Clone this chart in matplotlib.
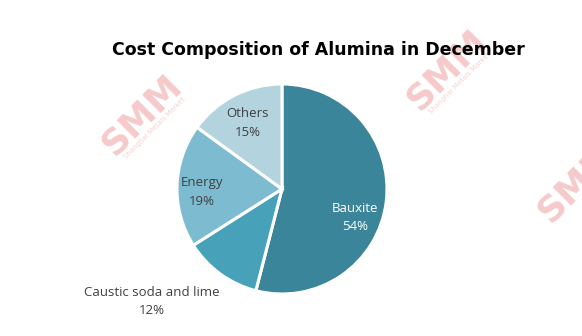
import matplotlib
matplotlib.use("Agg")
import matplotlib.pyplot as plt

categories = ["Bauxite", "Caustic soda and lime", "Energy", "Others"]
shares = [54, 12, 19, 15]
colors = ["#3A8599", "#47A1B8", "#7DBBD0", "#B3D3DF"]

fig = plt.figure(figsize=(5.82, 3.36), dpi=100)
fig.patch.set_facecolor("white")

# watermarks
wm_ax = fig.add_axes([0, 0, 1, 1])
wm_ax.set_axis_off()
wm_ax.set_xlim(0, 582)
wm_ax.set_ylim(336, 0)
for i, (x, y) in enumerate([(142, 115), (447, 70), (578, 182)]):
    wm_ax.text(x, y, "SMM", rotation=45, fontsize=26, fontweight="bold",
               color="#F6CACA", ha="center", va="center", family="DejaVu Sans")
    if i < 2:
        wm_ax.text(x + 13, y + 13, "Shanghai Metals Market", rotation=45, fontsize=5,
                   color="#F6D2D2", ha="center", va="center")

ax = fig.add_axes([0.304, 0.125, 0.361, 0.625])
wedges, _ = ax.pie(shares, colors=colors, startangle=90, counterclock=False,
                   wedgeprops=dict(edgecolor="white", linewidth=2.2))
ax.set_aspect("equal")
ax.set_xlim(-1, 1)
ax.set_ylim(-1, 1)

label_pos = {
    "Bauxite": (0.70, -0.27),
    "Caustic soda and lime": (-1.24, -1.07),
    "Energy": (-0.76, -0.03),
    "Others": (-0.33, 0.63),
}
for cat, val in zip(categories, shares):
    x, y = label_pos[cat]
    c = "white" if cat == "Bauxite" else "#404040"
    ax.text(x, y, f"{cat}\n{val}%", ha="center", va="center", fontsize=9.5,
            color=c, linespacing=1.55, family="Open Sans", clip_on=False)

fig.text(0.547, 0.85, "Cost Composition of Alumina in December", ha="center",
         va="center", fontsize=12.5, fontweight="bold", color="black",
         family="DejaVu Sans")

fig.savefig("out.png", dpi=100)
